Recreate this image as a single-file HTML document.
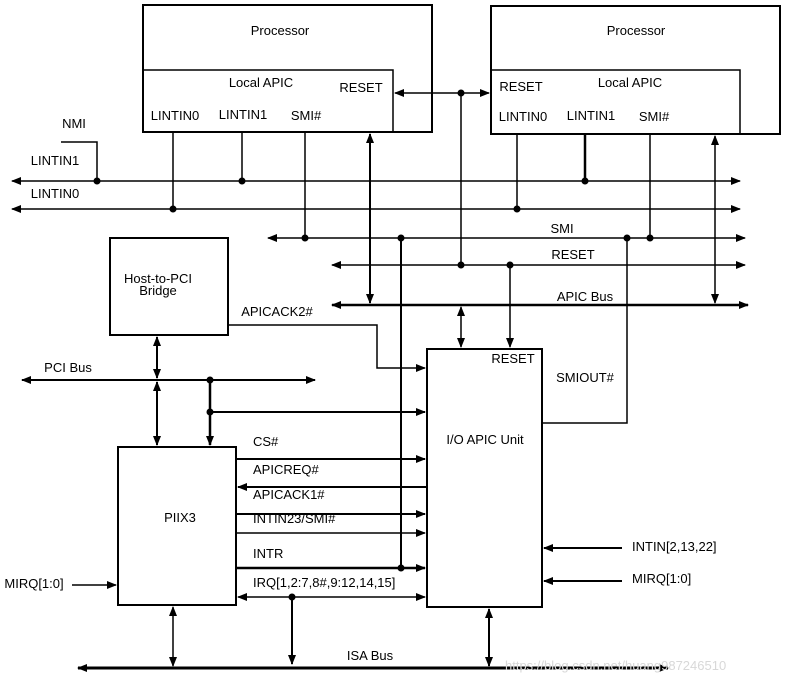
<!DOCTYPE html>
<html><head><meta charset="utf-8"><style>
html,body{margin:0;padding:0;background:#fff;}
svg{display:block;}
text{font-family:"Liberation Sans","DejaVu Sans",sans-serif;font-size:13px;fill:#000;}
</style></head><body>
<svg width="788" height="683" viewBox="0 0 788 683" xmlns="http://www.w3.org/2000/svg">
<defs>
<marker id="a" markerWidth="10" markerHeight="8" refX="9" refY="4" orient="auto-start-reverse" markerUnits="userSpaceOnUse">
<path d="M0,0 L10,4 L0,8 z" fill="#000"/></marker>
</defs>
<g stroke="#000" fill="none" stroke-width="1.5">
<rect x="143" y="5" width="289" height="127" stroke-width="2"/>
<rect x="143" y="70" width="250" height="62"/>
<rect x="491" y="6" width="289" height="128" stroke-width="2"/>
<rect x="491" y="70" width="249" height="64"/>
<line x1="395" y1="93" x2="489" y2="93" marker-start="url(#a)" marker-end="url(#a)"/>
<line x1="461" y1="93" x2="461" y2="265"/>
<polyline points="61,142 97,142 97,181"/>
<line x1="12" y1="181" x2="740" y2="181" marker-start="url(#a)" marker-end="url(#a)"/>
<line x1="12" y1="209" x2="740" y2="209" marker-start="url(#a)" marker-end="url(#a)"/>
<line x1="242" y1="132" x2="242" y2="181"/>
<line x1="173" y1="132" x2="173" y2="209"/>
<line x1="585" y1="134" x2="585" y2="181" stroke-width="2.5"/>
<line x1="517" y1="134" x2="517" y2="209"/>
<line x1="268" y1="238" x2="745" y2="238" marker-start="url(#a)" marker-end="url(#a)"/>
<line x1="305" y1="132" x2="305" y2="238"/>
<line x1="650" y1="134" x2="650" y2="238"/>
<line x1="401" y1="238" x2="401" y2="568" stroke-width="2"/>
<polyline points="627,238 627,423 542,423"/>
<line x1="332" y1="265" x2="745" y2="265" marker-start="url(#a)" marker-end="url(#a)"/>
<line x1="510" y1="265" x2="510" y2="347" marker-end="url(#a)"/>
<line x1="332" y1="305" x2="748" y2="305" stroke-width="2.5" marker-start="url(#a)" marker-end="url(#a)"/>
<line x1="370" y1="134" x2="370" y2="303" stroke-width="2" marker-start="url(#a)" marker-end="url(#a)"/>
<line x1="715" y1="136" x2="715" y2="303" marker-start="url(#a)" marker-end="url(#a)"/>
<line x1="461" y1="307" x2="461" y2="347" marker-start="url(#a)" marker-end="url(#a)"/>
<rect x="110" y="238" width="118" height="97" stroke-width="2"/>
<polyline points="228,325 377,325 377,368 425,368" marker-end="url(#a)"/>
<rect x="427" y="349" width="115" height="258" stroke-width="2"/>
<line x1="22" y1="380" x2="315" y2="380" stroke-width="2" marker-start="url(#a)" marker-end="url(#a)"/>
<line x1="157" y1="337" x2="157" y2="378" stroke-width="2" marker-start="url(#a)" marker-end="url(#a)"/>
<line x1="157" y1="382" x2="157" y2="445" stroke-width="2" marker-start="url(#a)" marker-end="url(#a)"/>
<line x1="210" y1="380" x2="210" y2="445" stroke-width="2.5" marker-end="url(#a)"/>
<line x1="210" y1="412" x2="425" y2="412" stroke-width="2" marker-end="url(#a)"/>
<rect x="118" y="447" width="118" height="158" stroke-width="2"/>
<line x1="236" y1="459" x2="425" y2="459" stroke-width="2" marker-end="url(#a)"/>
<line x1="427" y1="487" x2="238" y2="487" stroke-width="2" marker-end="url(#a)"/>
<line x1="236" y1="514" x2="425" y2="514" stroke-width="2" marker-end="url(#a)"/>
<line x1="236" y1="533" x2="425" y2="533" marker-end="url(#a)"/>
<line x1="236" y1="568" x2="425" y2="568" stroke-width="2.5" marker-end="url(#a)"/>
<line x1="238" y1="597" x2="425" y2="597" marker-start="url(#a)" marker-end="url(#a)"/>
<line x1="292" y1="597" x2="292" y2="664" stroke-width="2" marker-end="url(#a)"/>
<line x1="72" y1="585" x2="116" y2="585" marker-end="url(#a)"/>
<line x1="622" y1="548" x2="544" y2="548" stroke-width="2" marker-end="url(#a)"/>
<line x1="622" y1="581" x2="544" y2="581" stroke-width="2" marker-end="url(#a)"/>
<line x1="78" y1="668" x2="668" y2="668" stroke-width="3" marker-start="url(#a)" marker-end="url(#a)"/>
<line x1="173" y1="607" x2="173" y2="666" marker-start="url(#a)" marker-end="url(#a)"/>
<line x1="489" y1="609" x2="489" y2="666" stroke-width="2" marker-start="url(#a)" marker-end="url(#a)"/>
</g>
<g fill="#000">
<circle cx="461" cy="93" r="3.5"/><circle cx="97" cy="181" r="3.5"/><circle cx="242" cy="181" r="3.5"/>
<circle cx="585" cy="181" r="3.5"/><circle cx="173" cy="209" r="3.5"/><circle cx="517" cy="209" r="3.5"/>
<circle cx="305" cy="238" r="3.5"/><circle cx="401" cy="238" r="3.5"/><circle cx="627" cy="238" r="3.5"/>
<circle cx="650" cy="238" r="3.5"/><circle cx="461" cy="265" r="3.5"/><circle cx="510" cy="265" r="3.5"/>
<circle cx="210" cy="380" r="3.5"/><circle cx="210" cy="412" r="3.5"/><circle cx="401" cy="568" r="3.5"/>
<circle cx="292" cy="597" r="3.5"/>
</g>
<g>
<text x="280" y="35" text-anchor="middle">Processor</text>
<text x="261" y="87" text-anchor="middle">Local APIC</text>
<text x="361" y="92" text-anchor="middle">RESET</text>
<text x="175" y="120" text-anchor="middle">LINTIN0</text>
<text x="243" y="119" text-anchor="middle">LINTIN1</text>
<text x="306" y="120" text-anchor="middle">SMI#</text>
<text x="636" y="35" text-anchor="middle">Processor</text>
<text x="630" y="87" text-anchor="middle">Local APIC</text>
<text x="521" y="91" text-anchor="middle">RESET</text>
<text x="523" y="121" text-anchor="middle">LINTIN0</text>
<text x="591" y="120" text-anchor="middle">LINTIN1</text>
<text x="654" y="121" text-anchor="middle">SMI#</text>
<text x="74" y="128" text-anchor="middle">NMI</text>
<text x="55" y="165" text-anchor="middle">LINTIN1</text>
<text x="55" y="198" text-anchor="middle">LINTIN0</text>
<text x="562" y="233" text-anchor="middle">SMI</text>
<text x="573" y="259" text-anchor="middle">RESET</text>
<text x="585" y="301" text-anchor="middle">APIC Bus</text>
<text x="158" y="283" text-anchor="middle">Host-to-PCI</text>
<text x="158" y="295" text-anchor="middle">Bridge</text>
<text x="277" y="316" text-anchor="middle">APICACK2#</text>
<text x="513" y="363" text-anchor="middle">RESET</text>
<text x="585" y="382" text-anchor="middle">SMIOUT#</text>
<text x="485" y="444" text-anchor="middle">I/O APIC Unit</text>
<text x="68" y="372" text-anchor="middle">PCI Bus</text>
<text x="180" y="522" text-anchor="middle">PIIX3</text>
<text x="253" y="446">CS#</text>
<text x="253" y="474">APICREQ#</text>
<text x="253" y="499">APICACK1#</text>
<text x="253" y="523">INTIN23/SMI#</text>
<text x="253" y="558">INTR</text>
<text x="253" y="587">IRQ[1,2:7,8#,9:12,14,15]</text>
<text x="34" y="588" text-anchor="middle">MIRQ[1:0]</text>
<text x="632" y="551">INTIN[2,13,22]</text>
<text x="632" y="583">MIRQ[1:0]</text>
<text x="370" y="660" text-anchor="middle">ISA Bus</text>
<text x="505" y="670" style="fill:#d8d8d8;font-size:13px">https://blog.csdn.net/huang987246510</text>
</g>
</svg>
</body></html>
